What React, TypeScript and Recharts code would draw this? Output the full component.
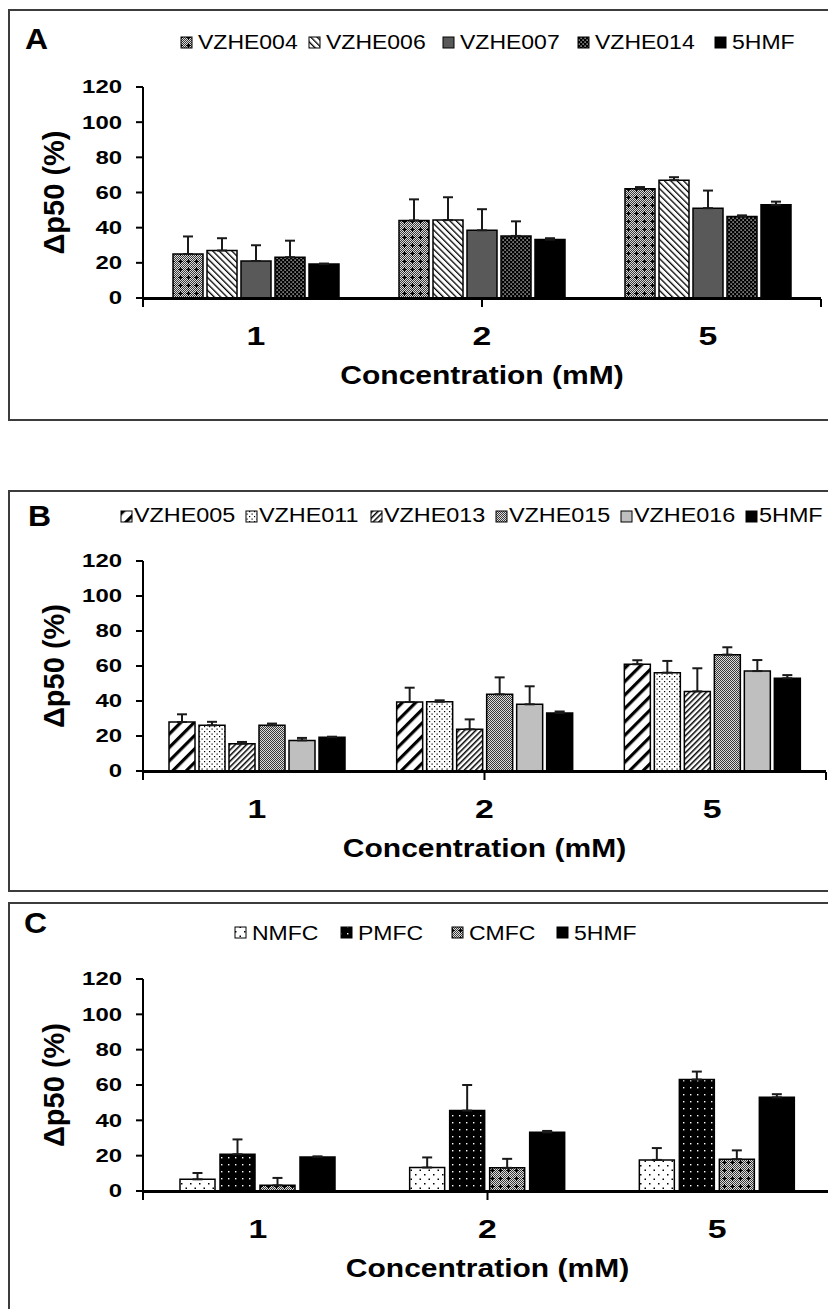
import React from 'react';
import { BarChart, Bar, XAxis, YAxis, ErrorBar, Legend } from 'recharts';

// ---------- data ----------
const categories = ['1', '2', '5'];
const yTicks = [0, 20, 40, 60, 80, 100, 120];
const boundaryTicks = [0, 1, 2, 3];

const hmf5 = [19.3, 33.2, 53.0];
const hmf5Err = [0.3, 0.8, 1.8];

// Panel A
const vzhe004 = [25.0, 44.1, 62.1];
const vzhe004Err = [10.0, 12.0, 1.0];
const vzhe006 = [27.0, 44.3, 67.0];
const vzhe006Err = [7.0, 13.0, 1.7];
const vzhe007 = [21.0, 38.5, 51.1];
const vzhe007Err = [9.0, 12.0, 10.0];
const vzhe014 = [23.2, 35.3, 46.4];
const vzhe014Err = [9.4, 8.3, 0.6];

// Panel B
const vzhe005 = [28.0, 39.4, 61.0];
const vzhe005Err = [4.4, 8.2, 2.3];
const vzhe011 = [26.1, 39.6, 56.2];
const vzhe011Err = [2.0, 0.8, 6.7];
const vzhe013 = [15.6, 23.8, 45.5];
const vzhe013Err = [1.0, 5.7, 13.2];
const vzhe015 = [26.1, 43.8, 66.5];
const vzhe015Err = [1.0, 9.7, 4.2];
const vzhe016 = [17.5, 38.1, 57.1];
const vzhe016Err = [1.4, 10.3, 6.3];

// Panel C
const nmfc = [6.6, 13.3, 17.6];
const nmfcErr = [3.6, 5.7, 6.7];
const pmfc = [20.8, 45.5, 63.1];
const pmfcErr = [8.4, 14.5, 4.5];
const cmfc = [3.2, 13.1, 18.0];
const cmfcErr = [4.2, 5.1, 5.0];

const yTitle = 'Δp50 (%)';
const xTitle = 'Concentration (mM)';

// ---------- style ----------
const FONT = '"Liberation Sans", Arial, Helvetica, sans-serif';
const W = 828;
const PLOT_LEFT = 135;

type Series = { name: string; values: number[]; errs: number[]; fill: string };

const panels = [
  {
    letter: 'A',
    top: 1,
    boxH: 412,
    chartH: 412,
    margin: { top: 78, right: 15, bottom: 121, left: 0 },
    barSize: 30,
    barGap: 4,
    letterPos: [17, 40],
    legendX: [173, 301, 435, 570, 707],
    legendGap: 17,
    legendSx: 1.18,
    markerY: 28,
    legendBase: 40,
    series: [
      { name: 'VZHE004', values: vzhe004, errs: vzhe004Err, fill: 'url(#pChkPlus)' },
      { name: 'VZHE006', values: vzhe006, errs: vzhe006Err, fill: 'url(#pBackThin)' },
      { name: 'VZHE007', values: vzhe007, errs: vzhe007Err, fill: '#595959' },
      { name: 'VZHE014', values: vzhe014, errs: vzhe014Err, fill: 'url(#pBlackDots)' },
      { name: '5HMF', values: hmf5, errs: hmf5Err, fill: '#000000' },
    ] as Series[],
  },
  {
    letter: 'B',
    top: 482,
    boxH: 402,
    chartH: 402,
    margin: { top: 71, right: 10, bottom: 119, left: 0 },
    barSize: 26,
    barGap: 4,
    letterPos: [20, 36],
    legendX: [113, 238, 363, 488, 613, 738],
    legendGap: 13,
    legendSx: 1.2,
    markerY: 21,
    legendBase: 32,
    series: [
      { name: 'VZHE005', values: vzhe005, errs: vzhe005Err, fill: 'url(#pFwdWide)' },
      { name: 'VZHE011', values: vzhe011, errs: vzhe011Err, fill: 'url(#pWhiteDots)' },
      { name: 'VZHE013', values: vzhe013, errs: vzhe013Err, fill: 'url(#pFwdThin)' },
      { name: 'VZHE015', values: vzhe015, errs: vzhe015Err, fill: 'url(#pChk)' },
      { name: 'VZHE016', values: vzhe016, errs: vzhe016Err, fill: '#bfbfbf' },
      { name: '5HMF', values: hmf5, errs: hmf5Err, fill: '#000000' },
    ] as Series[],
  },
  {
    letter: 'C',
    top: 894,
    boxH: 440,
    chartH: 400,
    margin: { top: 77, right: 4, bottom: 109, left: 0 },
    barSize: 35,
    barGap: 5,
    letterPos: [16, 31],
    legendX: [227, 333, 444, 549],
    legendGap: 17,
    legendSx: 1.18,
    markerY: 25,
    legendBase: 38,
    series: [
      { name: 'NMFC', values: nmfc, errs: nmfcErr, fill: 'url(#pSparseBlackDots)' },
      { name: 'PMFC', values: pmfc, errs: pmfcErr, fill: 'url(#pSparseWhiteDots)' },
      { name: 'CMFC', values: cmfc, errs: cmfcErr, fill: 'url(#pChkPlus)' },
      { name: '5HMF', values: hmf5, errs: hmf5Err, fill: '#000000' },
    ] as Series[],
  },
];

function SText(props: any) {
  const { x, y, sx = 1, size, weight = 'normal', anchor = 'start', children } = props;
  return (
    <text
      transform={`translate(${x},${y}) scale(${sx},1)`}
      x={0}
      y={0}
      fontSize={size}
      fontWeight={weight}
      textAnchor={anchor}
      fontFamily={FONT}
      fill="#000"
    >
      {children}
    </text>
  );
}

const YTick = (p: any) => (
  <SText x={p.x} y={p.y + 0.36 * 18} sx={1.33} size={18} weight="bold" anchor="end">
    {p.payload.value}
  </SText>
);

const XTick = (p: any) => (
  <SText x={p.x} y={p.y + 47} sx={1.3} size={26} weight="bold" anchor="middle">
    {p.payload.value}
  </SText>
);

const EmptyTick = () => <g />;

function Patterns() {
  return (
    <svg width={0} height={0} style={{ position: 'absolute' }}>
      <defs>
        <pattern id="pChk" width="2" height="2" patternUnits="userSpaceOnUse">
          <rect width="2" height="2" fill="#dcdcdc" />
          <rect width="1" height="1" fill="#3a3a3a" />
          <rect x="1" y="1" width="1" height="1" fill="#3a3a3a" />
        </pattern>
        <pattern id="pChkPlus" width="8" height="8" patternUnits="userSpaceOnUse">
          <rect width="8" height="8" fill="url(#pChk)" />
          <rect x="4" y="2" width="1" height="5" fill="#000" />
          <rect x="2" y="4" width="5" height="1" fill="#000" />
        </pattern>
        <pattern id="pBackThin" width="4.5" height="4.5" patternUnits="userSpaceOnUse" patternTransform="rotate(-45)">
          <rect width="4.5" height="4.5" fill="#fff" />
          <rect width="1.3" height="4.5" fill="#000" />
        </pattern>
        <pattern id="pFwdWide" width="9.5" height="9.5" patternUnits="userSpaceOnUse" patternTransform="rotate(45)">
          <rect width="9.5" height="9.5" fill="#fff" />
          <rect width="3.2" height="9.5" fill="#000" />
        </pattern>
        <pattern id="pFwdThin" width="4" height="4" patternUnits="userSpaceOnUse" patternTransform="rotate(45)">
          <rect width="4" height="4" fill="#fff" />
          <rect width="1.5" height="4" fill="#000" />
        </pattern>
        <pattern id="pBlackDots" width="4" height="4" patternUnits="userSpaceOnUse">
          <rect width="4" height="4" fill="#000" />
          <rect x="0.5" y="0.5" width="1.2" height="1.2" fill="#fff" />
          <rect x="2.5" y="2.5" width="1.2" height="1.2" fill="#fff" />
        </pattern>
        <pattern id="pWhiteDots" width="5" height="5" patternUnits="userSpaceOnUse">
          <rect width="5" height="5" fill="#fff" />
          <rect x="1" y="1" width="1.2" height="1.2" fill="#000" />
          <rect x="3.5" y="3.5" width="1.2" height="1.2" fill="#000" />
        </pattern>
        <pattern id="pSparseBlackDots" width="9" height="9" patternUnits="userSpaceOnUse">
          <rect width="9" height="9" fill="#fff" />
          <rect x="2" y="2" width="1.5" height="1.5" fill="#000" />
          <rect x="6.5" y="6.5" width="1.5" height="1.5" fill="#000" />
        </pattern>
        <pattern id="pSparseWhiteDots" width="7" height="7" patternUnits="userSpaceOnUse">
          <rect width="7" height="7" fill="#000" />
          <rect x="3" y="3" width="1.4" height="1.4" fill="#fff" />
        </pattern>
      </defs>
    </svg>
  );
}

function Panel({ cfg }: { cfg: any }) {
  const series: Series[] = cfg.series;
  const data = categories.map((c, i) => {
    const row: any = { cat: c };
    series.forEach((s, k) => {
      row['v' + k] = s.values[i];
      row['e' + k] = [0, s.errs[i]];
    });
    return row;
  });
  const plotTop = cfg.margin.top;
  const plotBottom = cfg.chartH - cfg.margin.bottom - 2;
  const plotRight = W - cfg.margin.right;
  const midX = (PLOT_LEFT + plotRight) / 2;
  const midY = (plotTop + plotBottom) / 2;

  const legendContent = () => (
    <svg width={W} height={60} style={{ display: 'block', overflow: 'visible' }}>
      <SText x={cfg.letterPos[0]} y={cfg.letterPos[1]} sx={1.1} size={29} weight="bold">
        {cfg.letter}
      </SText>
      {series.map((s, k) => (
        <g key={s.name}>
          <rect
            x={cfg.legendX[k]}
            y={cfg.markerY}
            width={11}
            height={11}
            fill={s.fill}
            stroke="#000"
            strokeWidth={1}
          />
          <SText x={cfg.legendX[k] + cfg.legendGap} y={cfg.legendBase} sx={cfg.legendSx} size={19.5}>
            {s.name}
          </SText>
        </g>
      ))}
    </svg>
  );

  return (
    <>
      <div
        style={{
          position: 'absolute',
          left: 0,
          top: cfg.top,
          width: 860,
          height: cfg.boxH,
          border: '2px solid #3c3c3c',
          boxSizing: 'border-box',
        }}
      />
      <div style={{ position: 'absolute', left: 0, top: cfg.top }}>
        <BarChart
          width={W}
          height={cfg.chartH}
          data={data}
          margin={cfg.margin}
          barSize={cfg.barSize}
          barGap={cfg.barGap}
        >
          <XAxis
            xAxisId="bd"
            type="number"
            domain={[0, 3]}
            ticks={boundaryTicks}
            allowDataOverflow
            height={1}
            interval={0}
            tick={EmptyTick}
            tickSize={8}
            axisLine={{ stroke: '#000', strokeWidth: 2 }}
            tickLine={{ stroke: '#000', strokeWidth: 2 }}
          />
          <XAxis
            dataKey="cat"
            height={1}
            axisLine={{ stroke: '#000', strokeWidth: 2 }}
            tickLine={false}
            tickSize={0}
            tickMargin={0}
            interval={0}
            tick={XTick}
            label={{
              value: xTitle,
              content: () => (
                <SText x={midX} y={plotBottom + 86} sx={1.2} size={25} weight="bold" anchor="middle">
                  {xTitle}
                </SText>
              ),
            }}
          />
          <YAxis
            width={PLOT_LEFT}
            domain={[0, 120]}
            ticks={yTicks}
            interval={0}
            allowDataOverflow
            tickSize={7}
            tickMargin={14}
            axisLine={{ stroke: '#000', strokeWidth: 2 }}
            tickLine={{ stroke: '#000', strokeWidth: 2 }}
            tick={YTick}
            label={{
              value: yTitle,
              content: () => (
                <text
                  transform={`translate(48,${midY}) rotate(-90)`}
                  x={0}
                  y={7.5}
                  textAnchor="middle"
                  fontSize={29}
                  fontWeight="bold"
                  fontFamily={FONT}
                  fill="#000"
                >
                  {yTitle}
                </text>
              ),
            }}
          />
          {series.map((s, k) => (
            <Bar
              key={s.name}
              dataKey={'v' + k}
              name={s.name}
              fill={s.fill}
              stroke="#000"
              strokeWidth={1.5}
              isAnimationActive={false}
            >
              <ErrorBar
                dataKey={'e' + k}
                direction="y"
                width={5}
                stroke="#1a1a1a"
                strokeWidth={2}
                isAnimationActive={false}
              />
            </Bar>
          ))}
          <Legend
            layout="horizontal"
            align="center"
            verticalAlign="middle"
            content={legendContent}
            wrapperStyle={{ position: 'absolute', top: 0, left: 0, width: W, height: 60, margin: 0, padding: 0 }}
          />
        </BarChart>
      </div>
    </>
  );
}

export default function App() {
  return (
    <div style={{ position: 'relative', width: 828, height: 1301, overflow: 'hidden', fontFamily: FONT }}>
      <style>{'html,body{overflow:hidden}'}</style>
      <Patterns />
      {panels.map((p) => (
        <Panel key={p.letter} cfg={p} />
      ))}
    </div>
  );
}
